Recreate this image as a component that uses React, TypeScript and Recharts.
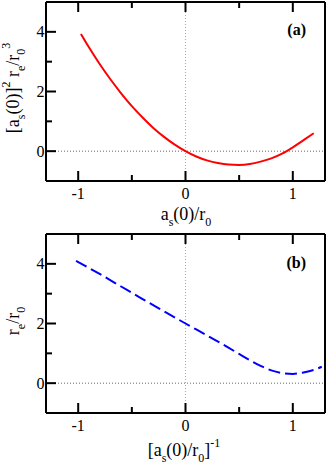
import React from 'react';
import { LineChart, Line, XAxis, YAxis, ReferenceLine } from 'recharts';

// panel (a): [a_s(0)]^2 r_e / r_0^3 versus a_s(0)/r_0
const xA = [-0.975, -0.9, -0.8, -0.7, -0.6, -0.5, -0.4, -0.3, -0.2, -0.1, 0, 0.1, 0.2, 0.3, 0.4, 0.5, 0.6, 0.7, 0.8, 0.9, 1.0, 1.1, 1.195];
const yA = [3.93, 3.48, 2.92, 2.41, 1.94, 1.51, 1.13, 0.78, 0.48, 0.22, 0, -0.18, -0.31, -0.4, -0.45, -0.46, -0.43, -0.35, -0.24, -0.08, 0.13, 0.37, 0.6];

// panel (b): r_e/r_0 versus [a_s(0)/r_0]^-1
const xB = [-1.02, -0.8, -0.6, -0.4, -0.2, 0, 0.2, 0.4, 0.5, 0.6, 0.7, 0.8, 0.9, 1.0, 1.1, 1.2, 1.27];
const yB = [4.1, 3.66, 3.24, 2.82, 2.41, 2.0, 1.6, 1.19, 0.98, 0.77, 0.58, 0.43, 0.34, 0.31, 0.36, 0.45, 0.55];

const xTicks = [-1, -0.5, 0, 0.5, 1];
const xMajor = [-1, 0, 1];
const yTicks = [0, 1, 2, 3, 4];
const yMajor = [0, 2, 4];

const FONT = '"Liberation Serif", "Times New Roman", serif';
const serif = { fontFamily: FONT };

type Side = 'bottom' | 'top' | 'left' | 'right';

// inward ticks, like the xmgrace original; labels only on bottom/left majors
const makeTick = (side: Side) => (props: any) => {
  const { x, y, payload } = props;
  const v = payload.value;
  const horiz = side === 'bottom' || side === 'top';
  const major = horiz ? xMajor.includes(v) : yMajor.includes(v);
  const len = major ? 10 : 6;
  let x2 = x;
  let y2 = y;
  if (side === 'bottom') y2 = y - len;
  if (side === 'top') y2 = y + len;
  if (side === 'left') x2 = x + len;
  if (side === 'right') x2 = x - len;
  return (
    <g>
      <line x1={x} y1={y} x2={x2} y2={y2} stroke="#000" strokeWidth={2} />
      {major && side === 'bottom' && (
        <text x={x} y={y + 18} textAnchor="middle" fontSize={16} style={serif} fill="#000">
          {v}
        </text>
      )}
      {major && side === 'left' && (
        <text x={x - 1.5} y={y + 5.5} textAnchor="end" fontSize={16} style={serif} fill="#000">
          {v}
        </text>
      )}
    </g>
  );
};

const axisLine = { stroke: '#000', strokeWidth: 2 };

interface PanelProps {
  xs: number[];
  ys: number[];
  color: string;
  dash?: string;
  height: number;
  bottom: number;
}

const Panel = ({ xs, ys, color, dash, height, bottom }: PanelProps) => {
  const data = xs.map((x, i) => ({ x, y: ys[i] }));
  return (
    <LineChart width={327} height={height} data={data} margin={{ top: 1, right: 1, bottom: bottom - 1, left: 45 }}>
      <XAxis xAxisId="b" dataKey="x" type="number" domain={[-1.3, 1.3]} ticks={xTicks} interval={0}
        orientation="bottom" height={1} tickSize={0} tickMargin={0} tickLine={false} axisLine={axisLine}
        tick={makeTick('bottom')} />
      <XAxis xAxisId="t" dataKey="x" type="number" domain={[-1.3, 1.3]} ticks={xTicks} interval={0}
        orientation="top" height={1} tickSize={0} tickMargin={0} tickLine={false} axisLine={axisLine}
        tick={makeTick('top')} />
      <YAxis yAxisId="l" type="number" domain={[-1, 5]} ticks={yTicks} interval={0}
        orientation="left" width={1} tickSize={0} tickMargin={0} tickLine={false} axisLine={axisLine}
        tick={makeTick('left')} />
      <YAxis yAxisId="r" type="number" domain={[-1, 5]} ticks={yTicks} interval={0}
        orientation="right" width={1} tickSize={0} tickMargin={0} tickLine={false} axisLine={axisLine}
        tick={makeTick('right')} />
      <ReferenceLine xAxisId="b" yAxisId="l" x={0} stroke="#aaa" strokeDasharray="1 2" />
      <ReferenceLine xAxisId="b" yAxisId="l" y={0} stroke="#666" strokeDasharray="1 2" />
      <Line xAxisId="b" yAxisId="l" dataKey="y" type="monotone" stroke={color} strokeWidth={2}
        strokeDasharray={dash} dot={false} isAnimationActive={false} />
    </LineChart>
  );
};

export default function App() {
  return (
    <div style={{ position: 'absolute', left: 0, top: 0, width: 327, height: 465, background: '#fff' }}>
      <div style={{ position: 'absolute', left: 0, top: 0 }}>
        <Panel xs={xA} ys={yA} color="#ff0000" height={232} bottom={51} />
      </div>
      <div style={{ position: 'absolute', left: 0, top: 232 }}>
        <Panel xs={xB} ys={yB} color="#0000ff" dash="12 5" height={233} bottom={52} />
      </div>
      <svg width={327} height={465} style={{ position: 'absolute', left: 0, top: 0, pointerEvents: 'none', fontFamily: FONT }}
        fill="#000">
        <text x={306} y={35} textAnchor="end" fontSize={16} fontWeight="bold">(a)</text>
        <text x={306} y={268} textAnchor="end" fontSize={16} fontWeight="bold">(b)</text>

        <text x={186} y={220} textAnchor="middle" fontSize={18}>
          a<tspan fontSize={12} dy={6}>s</tspan><tspan dy={-6}>(0)/r</tspan><tspan fontSize={12} dy={6}>0</tspan>
        </text>
        <text x={184} y={456} textAnchor="middle" fontSize={18}>
          [a<tspan fontSize={12} dy={6}>s</tspan><tspan dy={-6}>(0)/r</tspan><tspan fontSize={12} dy={6}>0</tspan>
          <tspan dy={-6}>]</tspan><tspan fontSize={12} dy={-9}>-1</tspan>
        </text>

        <text x={19} y={88} transform="rotate(-90 19 88)" textAnchor="middle" fontSize={18}>
          [a<tspan fontSize={12} dy={6}>s</tspan><tspan dy={-6}>(0)]</tspan><tspan fontSize={12} dy={-9}>2</tspan>
          <tspan dy={9}> r</tspan><tspan fontSize={12} dy={6}>e</tspan><tspan dy={-6}>/r</tspan>
          <tspan fontSize={12} dy={6}>0</tspan><tspan fontSize={12} dy={-15}>3</tspan>
        </text>
        <text x={19} y={321} transform="rotate(-90 19 321)" textAnchor="middle" fontSize={18}>
          r<tspan fontSize={12} dy={6}>e</tspan><tspan dy={-6}>/r</tspan><tspan fontSize={12} dy={6}>0</tspan>
        </text>
      </svg>
    </div>
  );
}
